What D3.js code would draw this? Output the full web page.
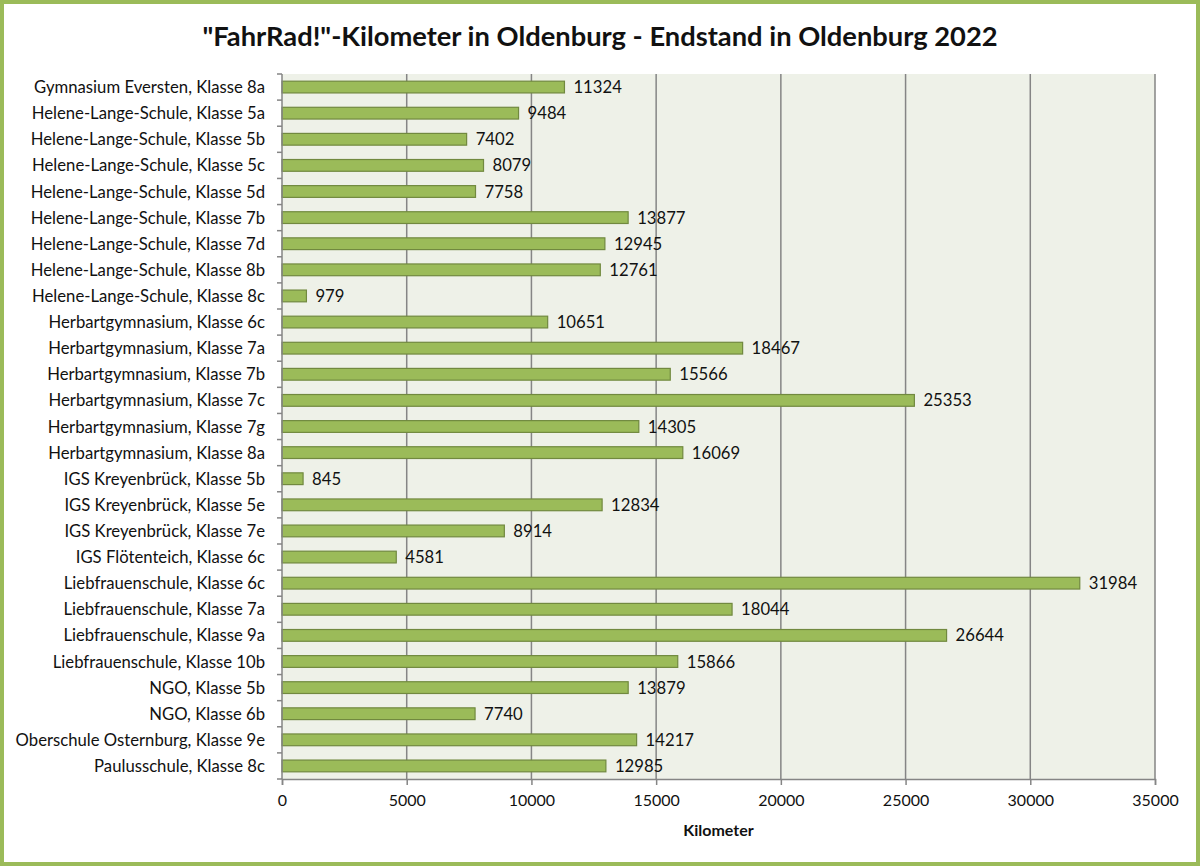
<!DOCTYPE html>
<html>
<head>
<meta charset="utf-8">
<script src="https://cdn.jsdelivr.net/npm/d3@7"></script>
<style>
  body { margin: 0; background: #fff; }
  svg text { font-family: Lato, "Open Sans", sans-serif; fill: #111; }
</style>
</head>
<body>
<script>
var klassen = [
    "Gymnasium Eversten, Klasse 8a",
    "Helene-Lange-Schule, Klasse 5a",
    "Helene-Lange-Schule, Klasse 5b",
    "Helene-Lange-Schule, Klasse 5c",
    "Helene-Lange-Schule, Klasse 5d",
    "Helene-Lange-Schule, Klasse 7b",
    "Helene-Lange-Schule, Klasse 7d",
    "Helene-Lange-Schule, Klasse 8b",
    "Helene-Lange-Schule, Klasse 8c",
    "Herbartgymnasium, Klasse 6c",
    "Herbartgymnasium, Klasse 7a",
    "Herbartgymnasium, Klasse 7b",
    "Herbartgymnasium, Klasse 7c",
    "Herbartgymnasium, Klasse 7g",
    "Herbartgymnasium, Klasse 8a",
    "IGS Kreyenbrück, Klasse 5b",
    "IGS Kreyenbrück, Klasse 5e",
    "IGS Kreyenbrück, Klasse 7e",
    "IGS Flötenteich, Klasse 6c",
    "Liebfrauenschule, Klasse 6c",
    "Liebfrauenschule, Klasse 7a",
    "Liebfrauenschule, Klasse 9a",
    "Liebfrauenschule, Klasse 10b",
    "NGO, Klasse 5b",
    "NGO, Klasse 6b",
    "Oberschule Osternburg, Klasse 9e",
    "Paulusschule, Klasse 8c"
];

var kilometer = [11324, 9484, 7402, 8079, 7758, 13877, 12945, 12761, 979, 10651,
    18467, 15566, 25353, 14305, 16069, 845, 12834, 8914, 4581, 31984,
    18044, 26644, 15866, 13879, 7740, 14217, 12985];

var xTicks = [0, 5000, 10000, 15000, 20000, 25000, 30000, 35000];

var W = 1200, H = 866;
var margin = { top: 74, right: 45, bottom: 87, left: 282 },
    width = W - margin.left - margin.right,
    height = H - margin.top - margin.bottom;

var svg = d3.select("body")
    .append("svg")
    .attr("width", W)
    .attr("height", H);

// groene rand
svg.append("rect")
    .attr("x", 2).attr("y", 2)
    .attr("width", W - 4).attr("height", H - 4)
    .attr("fill", "white")
    .attr("stroke", "#9bbb59")
    .attr("stroke-width", 4);

// titel
svg.append("text")
    .attr("x", 600)
    .attr("y", 46)
    .attr("text-anchor", "middle")
    .style("font-size", "27.3px")
    .style("font-weight", "bold")
    .text('"FahrRad!"-Kilometer in Oldenburg - Endstand in Oldenburg 2022');

var g = svg.append("g")
    .attr("transform", "translate(" + margin.left + "," + margin.top + ")");

var x = d3.scaleLinear()
    .domain([0, 35000])
    .range([0, width]);

var y = d3.scaleBand()
    .domain(klassen)
    .range([0, height])
    .paddingInner(0.55)
    .paddingOuter(0.275);

// achtergrond plot
g.append("rect")
    .attr("width", width)
    .attr("height", height)
    .attr("fill", "#eef1e8");

// rasterlijnen
g.selectAll(".grid")
    .data(xTicks.slice(1))
    .enter()
    .append("line")
    .attr("x1", function(d) { return x(d); })
    .attr("x2", function(d) { return x(d); })
    .attr("y1", 0)
    .attr("y2", height)
    .attr("stroke", "#858585")
    .attr("stroke-width", 1.5);

// balken
g.selectAll(".bar")
    .data(kilometer)
    .enter()
    .append("rect")
    .attr("x", x(0))
    .attr("y", function(d, i) { return y(klassen[i]); })
    .attr("width", function(d) { return x(d) - x(0); })
    .attr("height", y.bandwidth())
    .attr("fill", "#9bbb59")
    .attr("stroke", "#71893f")
    .attr("stroke-width", 1.2);

// waarden
g.selectAll(".val")
    .data(kilometer)
    .enter()
    .append("text")
    .attr("x", function(d) { return x(d) + 9; })
    .attr("y", function(d, i) { return y(klassen[i]) + y.bandwidth() / 2; })
    .attr("dy", "0.36em")
    .style("font-size", "16.7px")
    .text(function(d) { return d; });

// X-as
var xAxis = g.append("g")
    .attr("transform", "translate(0," + height + ")")
    .call(d3.axisBottom(x).tickValues(xTicks).tickSize(6).tickPadding(10).tickFormat(d3.format("d")));
xAxis.select(".domain").attr("stroke", "#858585").attr("stroke-width", 1.5);
xAxis.selectAll(".tick line").attr("stroke", "#858585").attr("stroke-width", 1.5);
xAxis.selectAll("text").style("font-size", "16px").style("fill", "#111");

// Y-as: streepjes tussen de categorieën
var yAxis = g.append("g");
yAxis.append("line")
    .attr("x1", 0).attr("x2", 0)
    .attr("y1", 0).attr("y2", height)
    .attr("stroke", "#858585")
    .attr("stroke-width", 1.5);
yAxis.selectAll(".ytick")
    .data(d3.range(klassen.length + 1))
    .enter()
    .append("line")
    .attr("x1", -5).attr("x2", 0)
    .attr("y1", function(i) { return i * height / klassen.length; })
    .attr("y2", function(i) { return i * height / klassen.length; })
    .attr("stroke", "#858585")
    .attr("stroke-width", 1.5);

yAxis.selectAll(".ylabel")
    .data(klassen)
    .enter()
    .append("text")
    .attr("x", -17)
    .attr("y", function(d) { return y(d) + y.bandwidth() / 2; })
    .attr("dy", "0.36em")
    .attr("text-anchor", "end")
    .style("font-size", "16.7px")
    .text(function(d) { return d; });

// as-titel
svg.append("text")
    .attr("x", margin.left + width / 2)
    .attr("y", 836)
    .attr("text-anchor", "middle")
    .style("font-size", "16px")
    .style("font-weight", "bold")
    .text("Kilometer");
</script>
</body>
</html>
